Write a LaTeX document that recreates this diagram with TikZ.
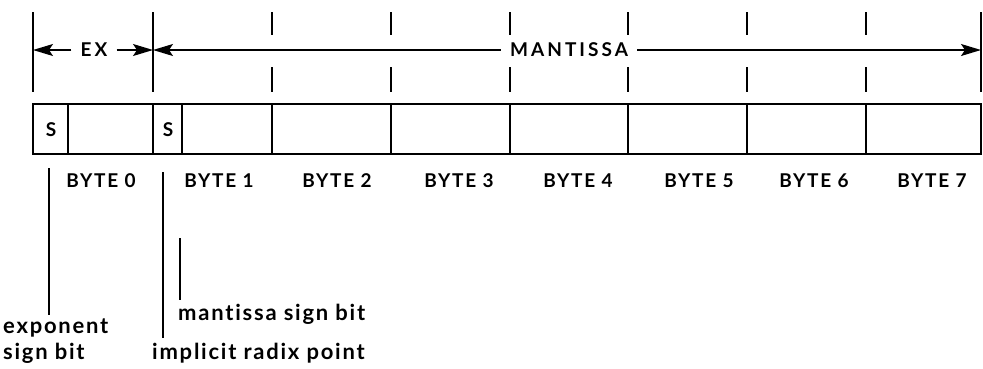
\documentclass[tikz,border=0pt]{standalone}
\usepackage{fontspec}
\setmainfont{Lato}[Ligatures=NoCommon]
\newfontfamily\capfont{Lato}[Ligatures=NoCommon,LetterSpace=9]
\newfontfamily\topfont{Lato}[Ligatures=NoCommon,LetterSpace=16]
\newfontfamily\lowfont{Lato}[Ligatures=NoCommon,LetterSpace=8]
\usetikzlibrary{arrows.meta}
\tikzset{
  ln/.style={line width=1.3pt, black},
  lbl/.style={font=\capfont\fontsize{19}{19}\selectfont\bfseries, inner sep=0pt, anchor=base},
  note/.style={font=\lowfont\fontsize{22}{22}\selectfont\bfseries, inner sep=0pt, anchor=base west},
  arr/.style={ln, -{Stealth[length=20pt,width=12pt,inset=4pt]}},
  gaptext/.style={font=\topfont\fontsize{19}{19}\selectfont\bfseries, fill=white, inner xsep=9pt, inner ysep=2pt}
}
\begin{document}
\begin{tikzpicture}[x=1pt,y=-1pt]
\useasboundingbox (0,0) rectangle (983,368);
% byte boundaries
\foreach \n/\x in {0/33,1/153,2/272,3/391,4/510,5/628,6/747,7/866,8/981}{
  \coordinate (t\n) at (\x,104);
  \coordinate (u\n) at (\x,154);
}
% register box
\draw[ln] (t0) rectangle (u8);
\foreach \n in {1,...,7}{ \draw[ln] (t\n) -- (u\n); }
% sign bit cells
\coordinate (s0t) at (68,104); \coordinate (s0b) at (68,154);
\coordinate (s1t) at (182,104); \coordinate (s1b) at (182,154);
\draw[ln] (s0t) -- (s0b);
\draw[ln] (s1t) -- (s1b);
\node[lbl] (sa) at (51,136) {S};
\node[lbl] (sb) at (168,136) {S};
% top ticks, solid
\foreach \x in {33,153,981}{ \draw[ln] (\x,12) -- (\x,92); }
% top ticks, broken
\foreach \x in {272,391,510,628,747,866}{
  \draw[ln] (\x,12) -- (\x,35);
  \draw[ln] (\x,67) -- (\x,92);
}
% EX arrow
\coordinate (exl) at (33,50); \coordinate (exr) at (153,50);
\node[gaptext] (ex) at (94,50) {EX};
\draw[arr] (ex.west) -- (exl);
\draw[arr] (ex.east) -- (exr);
% MANTISSA arrow
\coordinate (mal) at (153,50); \coordinate (mar) at (981,50);
\node[gaptext] (ma) at (569,50) {MANTISSA};
\draw[arr] (ma.west) -- (mal);
\draw[arr] (ma.east) -- (mar);
% byte labels
\foreach \n/\x in {0/101,1/219,2/337,3/459,4/578,5/699,6/814,7/932}{
  \node[lbl] (by\n) at (\x,187) {BYTE \n};
}
% pointer lines
\coordinate (e1) at (49,168); \coordinate (e2) at (49,315);
\coordinate (r1) at (163,172); \coordinate (r2) at (163,338);
\coordinate (m1) at (180,238); \coordinate (m2) at (180,300);
\draw[ln] (e1) -- (e2);
\draw[ln] (r1) -- (r2);
\draw[ln] (m1) -- (m2);
% notes
\node[note] (n1) at (3,333) {exponent};
\node[note] (n2) at (3,359) {sign bit};
\node[note] (n3) at (178,320) {mantissa sign bit};
\node[note] (n4) at (152,359) {implicit radix point};
\end{tikzpicture}
\end{document}
